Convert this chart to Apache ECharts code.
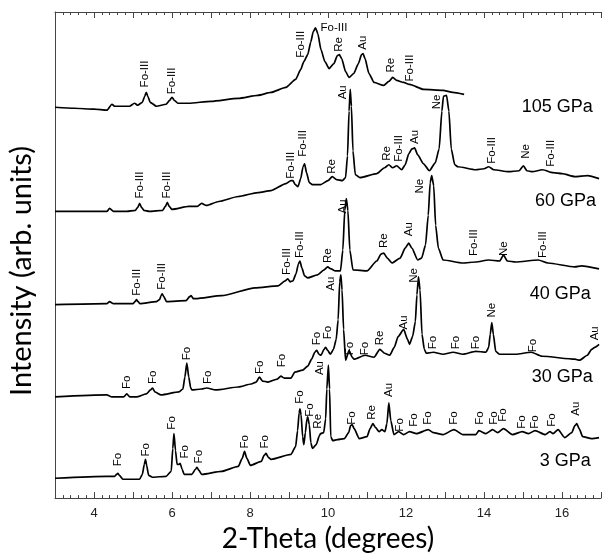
<!DOCTYPE html>
<html>
<head>
<meta charset="utf-8">
<script src="https://cdn.jsdelivr.net/npm/echarts@6/dist/echarts.min.js"></script>
<style>
html, body { margin: 0; padding: 0; background: #fff; }
#chart { width: 604px; height: 558px; }
</style>
</head>
<body>
<div id="chart"></div>
<script>
// 2-theta (deg), intensity (arb. units, traces already offset)
var p105 = [[3.00,394],[3.5,393],[4.0,392],[4.33,391],[4.46,397],[4.53,395],[4.91,395],[5.04,398],[5.12,396],[5.24,399],[5.30,405],[5.34,409],[5.38,405],[5.44,399],[5.60,395],[5.85,397],[5.94,401],[6.00,404],[6.06,401],[6.15,398],[6.43,398],[7.0,400],[7.70,403],[8.2,406],[8.54,409],[8.92,414],[9.17,422],[9.30,432],[9.38,440],[9.48,447],[9.56,460],[9.62,470],[9.68,474],[9.74,468],[9.82,452],[9.92,440],[10.03,433],[10.15,438],[10.24,446],[10.29,447],[10.35,443],[10.45,430],[10.54,424],[10.66,428],[10.78,438],[10.86,447],[10.90,448],[10.95,443],[11.05,428],[11.18,419],[11.43,416],[11.56,420],[11.66,424],[11.76,421],[11.94,419],[12.09,417],[12.45,412],[12.95,411],[13.2,409],[13.49,407]];
var p60 = [[3.00,289],[4.0,289],[4.33,289],[4.40,292],[4.50,289],[4.84,289],[5.06,290],[5.12,293],[5.17,297],[5.22,293],[5.28,290],[5.42,289],[5.76,290],[5.83,294],[5.88,298],[5.93,294],[6.00,291],[6.43,294],[6.65,294],[6.76,297],[6.88,295],[7.2,299],[7.70,304],[8.2,308],[8.54,310],[8.92,317],[9.05,320],[9.10,320],[9.16,316],[9.23,314],[9.30,322],[9.36,334],[9.40,337],[9.45,328],[9.52,318],[9.60,316],[9.81,316],[10.00,320],[10.11,324],[10.22,321],[10.37,320],[10.45,323],[10.50,345],[10.54,390],[10.57,412],[10.60,395],[10.64,350],[10.70,326],[10.82,323],[11.25,327],[11.45,333],[11.56,336],[11.66,333],[11.76,335],[11.89,331],[11.98,336],[12.07,347],[12.15,352],[12.22,353],[12.30,346],[12.45,337],[12.60,330],[12.75,338],[12.85,352],[12.92,390],[12.96,405],[13.04,406],[13.10,390],[13.16,352],[13.25,336],[13.33,334],[13.79,331],[14.0,332],[14.12,334],[14.25,331],[14.63,329],[14.90,330],[15.01,335],[15.10,330],[15.24,329],[15.50,331],[15.77,328],[16.0,327],[16.33,324],[16.66,325],[16.95,322]];
var p40 = [[3.00,195],[4.33,196],[4.40,198],[4.50,196],[4.84,196],[5.00,196],[5.05,198],[5.09,200],[5.13,198],[5.18,196],[5.60,198],[5.68,200],[5.72,204],[5.75,206],[5.79,203],[5.86,198],[6.36,199],[6.45,203],[6.49,204],[6.55,201],[6.61,201],[7.27,204],[8.13,212],[8.72,214],[8.90,219],[8.97,221],[9.03,218],[9.10,219],[9.18,226],[9.24,236],[9.28,239],[9.33,232],[9.40,224],[9.48,222],[9.73,225],[9.90,230],[9.99,233],[10.08,231],[10.19,229],[10.32,229],[10.38,250],[10.43,290],[10.47,302],[10.51,290],[10.56,250],[10.64,230],[11.00,229],[11.25,239],[11.36,246],[11.43,247],[11.52,242],[11.64,237],[11.85,242],[11.98,252],[12.07,257],[12.15,252],[12.30,240],[12.40,242],[12.50,255],[12.57,285],[12.62,318],[12.66,325],[12.71,315],[12.76,275],[12.83,252],[12.95,240],[13.46,237],[13.79,238],[14.12,240],[14.40,239],[14.50,245],[14.60,239],[14.81,238],[15.39,240],[15.64,237],[16.33,233],[16.50,234],[16.95,231]];
var p30 = [[3.00,102],[4.33,104],[4.46,102],[4.76,102],[4.84,105],[4.92,102],[5.09,102],[5.34,105],[5.45,109],[5.50,111],[5.56,107],[5.72,104],[6.18,107],[6.28,110],[6.33,122],[6.38,136],[6.43,122],[6.48,111],[6.51,109],[6.76,110],[6.89,111],[7.12,109],[7.70,112],[8.03,115],[8.16,117],[8.24,122],[8.32,118],[8.46,117],[8.70,120],[8.79,123],[8.88,121],[9.05,121],[9.15,127],[9.35,129],[9.48,133],[9.58,140],[9.66,147],[9.71,149],[9.77,145],[9.82,144],[9.90,150],[9.94,152],[9.99,149],[10.06,145],[10.14,150],[10.21,160],[10.26,180],[10.30,218],[10.33,225],[10.36,210],[10.40,170],[10.45,139],[10.54,149],[10.62,142],[10.67,140],[10.95,144],[11.18,142],[11.33,150],[11.45,146],[11.58,144],[11.70,152],[11.80,163],[11.94,170],[12.04,160],[12.09,155],[12.17,163],[12.24,178],[12.28,205],[12.32,223],[12.36,210],[12.41,165],[12.47,150],[12.52,146],[12.70,147],[12.95,145],[13.21,147],[13.46,145],[13.79,148],[14.05,147],[14.12,152],[14.16,165],[14.20,177],[14.24,165],[14.30,148],[14.40,145],[14.81,145],[15.21,147],[15.49,143],[16.33,140],[16.45,139],[16.65,144],[16.76,150],[16.84,152],[16.95,155]];
var p3 = [[3.00,20],[4.33,22],[4.53,22],[4.58,24],[4.61,25],[4.65,23],[4.74,19],[5.17,19],[5.24,24],[5.29,34],[5.32,39],[5.35,33],[5.40,23],[5.50,21],[5.85,22],[5.98,27],[6.02,50],[6.05,65],[6.09,48],[6.13,34],[6.18,34],[6.21,35],[6.26,29],[6.31,24],[6.51,24],[6.60,29],[6.64,31],[6.69,28],[6.76,24],[7.27,27],[7.70,32],[7.80,40],[7.86,47],[7.92,40],[8.01,33],[8.29,37],[8.36,43],[8.41,45],[8.47,41],[8.54,39],[9.05,44],[9.17,52],[9.22,68],[9.26,86],[9.28,90],[9.31,84],[9.35,62],[9.38,54],[9.42,66],[9.46,80],[9.48,82],[9.52,74],[9.56,56],[9.60,50],[9.70,54],[9.78,63],[9.81,65],[9.89,66],[9.94,80],[9.97,110],[10.01,134],[10.04,110],[10.07,62],[10.12,58],[10.24,59],[10.42,60],[10.53,66],[10.58,73],[10.62,74],[10.67,70],[10.80,60],[11.00,62],[11.08,70],[11.15,75],[11.22,71],[11.31,67],[11.38,69],[11.46,67],[11.51,75],[11.56,96],[11.61,78],[11.69,64],[11.81,67],[11.94,64],[12.09,67],[12.27,65],[12.57,69],[12.70,66],[12.95,64],[13.23,69],[13.46,64],[13.79,64],[13.87,68],[14.05,65],[14.22,69],[14.35,66],[14.50,70],[14.73,64],[14.98,67],[15.14,65],[15.31,68],[15.57,64],[15.69,67],[15.77,65],[15.90,69],[16.07,61],[16.25,66],[16.33,73],[16.38,75],[16.44,70],[16.53,62],[16.76,60],[16.95,61]];

// peak labels: [2theta, bottom of text, phase, rotation]
var peaks105 = [[5.30,414,'Fo-III'],[6.00,407,'Fo-III'],[9.30,444,'Fo-III'],[9.81,474,'Fo-III',0],[10.29,450,'Re'],[10.90,452,'Au'],[11.61,429,'Re'],[12.09,420,'Fo-III']];
var peaks60 = [[5.17,302,'Fo-III'],[5.88,302,'Fo-III'],[9.05,322,'Fo-III'],[9.35,344,'Fo-III'],[10.11,327,'Re'],[10.37,402,'Au'],[11.51,340,'Re'],[11.81,339,'Fo-III'],[12.22,357,'Au'],[12.78,392,'Ne'],[14.20,337,'Fo-III'],[15.06,342,'Ne'],[15.72,334,'Fo-III']];
var peaks40 = [[5.09,204,'Fo-III'],[5.75,210,'Fo-III'],[8.95,225,'Fo-III'],[9.28,242,'Fo-III'],[9.99,237,'Re'],[10.37,287,'Au'],[11.43,252,'Re'],[12.07,264,'Au'],[12.35,307,'Ne'],[13.74,244,'Fo-III'],[14.50,244,'Ne'],[15.52,242,'Fo-III']];
var peaks30 = [[4.84,110,'Fo'],[5.50,115,'Fo'],[6.38,139,'Fo'],[6.92,115,'Fo'],[8.24,125,'Fo'],[8.82,132,'Fo'],[9.71,154,'Fo'],[9.99,160,'Fo'],[10.06,209,'Au'],[10.57,144,'Fo'],[10.95,144,'Fo'],[11.33,154,'Re'],[11.94,170,'Au'],[12.19,217,'Ne'],[12.70,150,'Fo'],[13.28,150,'Fo'],[13.79,150,'Fo'],[14.20,182,'Ne'],[15.24,147,'Fo'],[16.84,159,'Au']];
var peaks3 = [[4.61,32,'Fo'],[5.32,42,'Fo'],[6.00,69,'Fo'],[6.33,40,'Fo'],[6.69,35,'Fo'],[7.86,50,'Fo'],[8.39,50,'Fo'],[9.28,95,'Fo'],[9.53,82,'Fo'],[9.73,70,'Re'],[9.78,124,'Au'],[10.62,74,'Fo'],[11.13,79,'Re'],[11.56,102,'Au'],[11.84,67,'Fo'],[12.19,72,'Fo'],[12.57,74,'Fo'],[13.23,74,'Fo'],[13.89,74,'Fo'],[14.25,74,'Fo'],[14.48,77,'Fo'],[14.98,70,'Fo'],[15.31,70,'Fo'],[15.74,72,'Fo'],[16.35,83,'Au']];

// pressure tags: [right end, level, text]
var pressures = [[16.79,394,'105 GPa'],[16.87,299,'60 GPa'],[16.74,206,'40 GPa'],[16.79,122,'30 GPa'],[16.74,37,'3 GPa']];

var traces = [p105, p60, p40, p30, p3];
var allPeaks = [].concat(peaks105, peaks60, peaks40, peaks30, peaks3);

var chart = echarts.init(document.getElementById('chart'));
var txtFont = 'Liberation Sans';

var series = traces.map(function (d) {
	return {
		type: 'line',
		data: d,
		showSymbol: false,
		smooth: 0.2,
		smoothMonotone: 'x',
		lineStyle: { color: '#000', width: 1.7 },
		silent: true
	};
});

var plainText = {
	show: true,
	position: [0, 0],
	formatter: '{b}',
	fontFamily: txtFont,
	color: '#000',
	opacity: 1,
	textBorderWidth: 0,
	textShadowBlur: 0
};

series.push({
	type: 'scatter',
	symbolSize: 0,
	silent: true,
	z: 5,
	data: allPeaks.map(function (p) {
		var item = { value: [p[0], p[1]], name: p[2] };
		if (p[3] === 0) item.label = { rotate: 0 };
		return item;
	}),
	label: Object.assign({}, plainText, {
		rotate: 90,
		align: 'left',
		verticalAlign: 'middle',
		fontSize: 11.5
	})
});

series.push({
	type: 'scatter',
	symbolSize: 0,
	silent: true,
	z: 5,
	data: pressures.map(function (p) { return { value: [p[0], p[1]], name: p[2] }; }),
	label: Object.assign({}, plainText, {
		align: 'right',
		verticalAlign: 'middle',
		fontSize: 18
	})
});

var tickStyle = { color: '#444', width: 1 };

var option = {
	animation: false,
	backgroundColor: '#fff',
	grid: { left: 55, right: -3, top: 12, bottom: 56 },
	xAxis: [{
		type: 'value',
		min: 3,
		max: 17,
		interval: 1,
		name: '2-Theta (degrees)',
		nameLocation: 'middle',
		nameGap: 24,
		nameTextStyle: { fontFamily: 'Lato', fontSize: 28, color: '#000' },
		axisLine: { show: true, onZero: false, lineStyle: tickStyle },
		axisTick: { show: true, inside: true, length: 6, lineStyle: tickStyle },
		minorTick: { show: true, splitNumber: 5, length: 3, lineStyle: tickStyle },
		splitLine: { show: false },
		axisLabel: {
			margin: 9,
			fontSize: 13,
			fontFamily: txtFont,
			color: '#222',
			formatter: function (v) { return v % 2 === 0 ? String(v) : ''; }
		}
	}, {
		type: 'value',
		position: 'top',
		min: 3,
		max: 17,
		interval: 1,
		axisLine: { show: true, onZero: false, lineStyle: tickStyle },
		axisTick: { show: true, inside: true, length: 6, lineStyle: tickStyle },
		minorTick: { show: true, splitNumber: 5, length: 3, lineStyle: tickStyle },
		splitLine: { show: false },
		axisLabel: { show: false }
	}],
	yAxis: {
		type: 'value',
		min: 0,
		max: 490,
		axisLine: { show: true, lineStyle: tickStyle },
		axisTick: { show: false },
		axisLabel: { show: false },
		splitLine: { show: false }
	},
	graphic: [{
		type: 'text',
		x: 22,
		y: 271,
		rotation: Math.PI / 2,
		style: {
			text: 'Intensity (arb. units)',
			font: '29px Lato',
			fill: '#000',
			textAlign: 'center',
			textVerticalAlign: 'middle'
		}
	}],
	series: series
};

chart.setOption(option);
</script>
</body>
</html>
